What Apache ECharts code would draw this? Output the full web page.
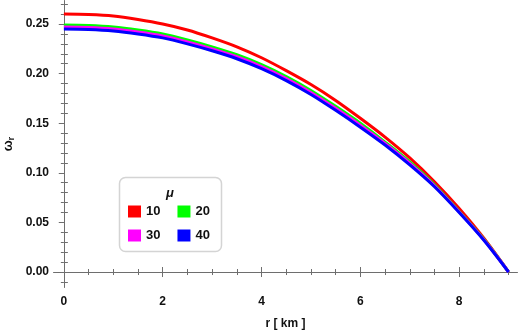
<!DOCTYPE html>
<html>
<head>
<meta charset="UTF-8">
<title>omega_r</title>
<script src="https://cdn.jsdelivr.net/npm/echarts@6/dist/echarts.min.js"></script>
<style>
  *{margin:0;padding:0}
  html,body{width:100%;height:100%;background:#fff}
  #main{width:518px;height:330px}
</style>
</head>
<body>
<div id="main"></div>
<script>
// r [km] sample points
var rValues = [0, 0.5, 1, 1.5, 2, 2.5, 3, 3.5, 4, 4.5, 5, 5.5, 6, 6.5, 7, 7.5, 8, 8.5, 9];
var omega10 = [0.260, 0.2595, 0.258, 0.2545, 0.250, 0.244, 0.236, 0.227, 0.216, 0.203, 0.189, 0.173, 0.155, 0.136, 0.115, 0.091, 0.064, 0.034, 0];
var omega20 = [0.249, 0.2485, 0.247, 0.244, 0.240, 0.234, 0.227, 0.219, 0.209, 0.197, 0.183, 0.167, 0.150, 0.131, 0.111, 0.088, 0.061, 0.033, 0];
var omega30 = [0.247, 0.2465, 0.245, 0.242, 0.238, 0.232, 0.225, 0.217, 0.207, 0.195, 0.181, 0.165, 0.148, 0.1295, 0.1095, 0.087, 0.0605, 0.0325, 0];
var omega40 = [0.245, 0.2445, 0.243, 0.240, 0.236, 0.230, 0.223, 0.215, 0.205, 0.193, 0.179, 0.163, 0.146, 0.128, 0.108, 0.086, 0.060, 0.032, 0];
var muLabels = ['10', '20', '30', '40'];
var lineColors = ['#ff0000', '#00ff00', '#ff00ff', '#0000ff'];

// frame ticks
var xMajor = [0, 2, 4, 6, 8];
var xMinor = [0.5, 1, 1.5, 2.5, 3, 3.5, 4.5, 5, 5.5, 6.5, 7, 7.5, 8.5, 9];
var yMajor = [0, 0.05, 0.1, 0.15, 0.2, 0.25];
var yMinor = [-0.01, 0.01, 0.02, 0.03, 0.04, 0.06, 0.07, 0.08, 0.09, 0.11, 0.12, 0.13, 0.14,
              0.16, 0.17, 0.18, 0.19, 0.21, 0.22, 0.23, 0.24, 0.26, 0.27];

var frameColor = '#6e6e6e';
var font = 'Liberation Sans, Arial, sans-serif';

function makeAxis(pos, lo, hi, ticks, len, inside, withLabels, fmt) {
    var ax = {
        type: 'value',
        position: pos,
        min: lo,
        max: hi,
        splitLine: {show: false},
        axisLine: {show: true, lineStyle: {color: frameColor, width: 1}},
        axisTick: {show: true, customValues: ticks, length: len, inside: inside,
                   lineStyle: {color: frameColor, width: 1}},
        axisLabel: {show: false}
    };
    if (withLabels) {
        ax.axisLabel = {show: true, customValues: ticks, formatter: fmt,
                        color: '#111', fontWeight: 'bold', fontSize: 12, fontFamily: font, margin: 6};
    }
    return ax;
}

var xLo = -0.2, xHi = 9.17;
var yLo = -0.0151, yHi = 0.2732;

var xAxes = [
    makeAxis('bottom', xLo, xHi, xMajor, 5, true, true, function (v) { return v.toFixed(0); }),
    makeAxis('bottom', xLo, xHi, xMinor, 3, true, false),
    makeAxis('top', xLo, xHi, xMajor, 5, true, false),
    makeAxis('top', xLo, xHi, xMinor, 3, true, false)
];
xAxes[0].axisLabel.margin = 9;
xAxes[0].name = 'r [ km ]';
xAxes[0].nameLocation = 'middle';
xAxes[0].nameGap = 31;
xAxes[0].nameTextStyle = {color: '#111', fontWeight: 'bold', fontSize: 12, fontFamily: font};

var yAxes = [
    makeAxis('left', yLo, yHi, yMajor, 5, false, true, function (v) { return v.toFixed(2); }),
    makeAxis('left', yLo, yHi, yMinor, 4, true, false),
    makeAxis('right', yLo, yHi, yMajor, 5, true, false),
    makeAxis('right', yLo, yHi, yMinor, 3, true, false)
];
yAxes[0].axisLabel.margin = 5;
yAxes[0].name = '{w|ω}{s|r}';
yAxes[0].nameLocation = 'middle';
yAxes[0].nameGap = 38;
yAxes[0].nameMoveOverlap = false;
yAxes[0].nameTextStyle = {
    rich: {
        w: {fontSize: 13, fontWeight: 'bold', color: '#111', fontFamily: font, lineHeight: 16},
        s: {fontSize: 9, fontWeight: 'bold', color: '#111', fontFamily: font, lineHeight: 16, verticalAlign: 'bottom', padding: [5, 0, 0, 0]}
    }
};

var allOmega = [omega10, omega20, omega30, omega40];
var series = [];
for (var i = 0; i < allOmega.length; i++) {
    var pts = [];
    for (var j = 0; j < rValues.length; j++) {
        pts.push([rValues[j], allOmega[i][j]]);
    }
    series.push({
        name: muLabels[i],
        type: 'line',
        data: pts,
        smooth: 0.3,
        showSymbol: false,
        color: lineColors[i],
        lineStyle: {width: 3, color: lineColors[i]},
        z: 2 + i
    });
}

var legendText = {fontSize: 13, fontWeight: 'bold', color: '#111', fontFamily: font};

var myChart = echarts.init(document.getElementById('main'));
var option = {
    animation: false,
    backgroundColor: '#fff',
    grid: {left: 54, right: 1, top: 1, bottom: 43, containLabel: false, outerBoundsMode: 'none'},
    xAxis: xAxes,
    yAxis: yAxes,
    legend: [
        {data: muLabels.slice(0, 2), left: 128, top: 205, padding: 0, icon: 'rect',
         itemWidth: 13, itemHeight: 12, itemGap: 17, textStyle: legendText, z: 6, selectedMode: false},
        {data: muLabels.slice(2, 4), left: 128, top: 229, padding: 0, icon: 'rect',
         itemWidth: 13, itemHeight: 12, itemGap: 17, textStyle: legendText, z: 6, selectedMode: false}
    ],
    graphic: [
        {type: 'rect', z: 5, shape: {x: 119.5, y: 177.5, width: 102, height: 74, r: 6},
         style: {fill: '#fff', stroke: '#d4d4d4', lineWidth: 1.5}},
        {type: 'text', z: 6, x: 170, y: 193,
         style: {text: 'μ', font: 'italic bold 13px ' + font, fill: '#111', align: 'center', verticalAlign: 'middle'}}
    ],
    series: series
};
myChart.setOption(option);
</script>
</body>
</html>
